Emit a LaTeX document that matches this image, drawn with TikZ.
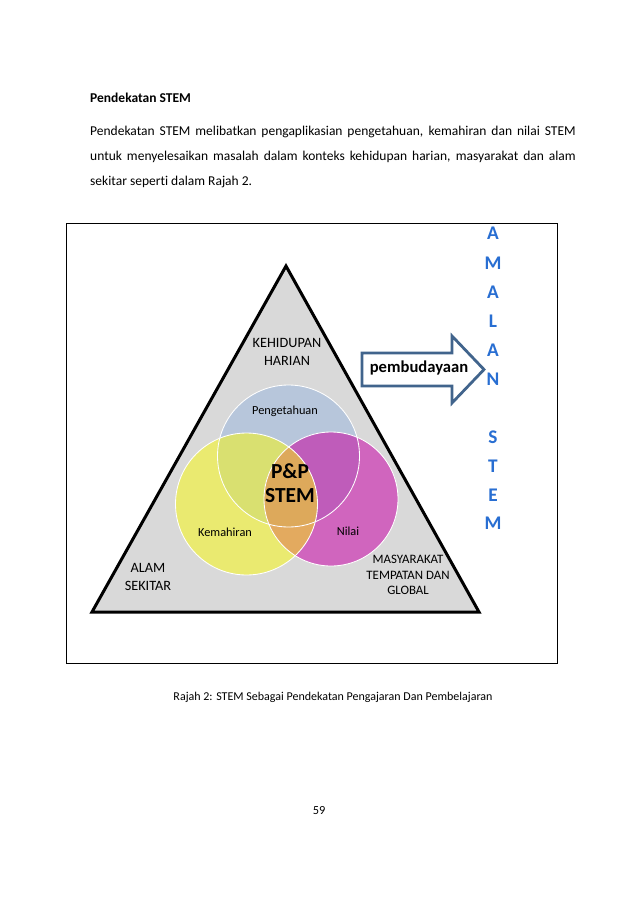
\documentclass[tikz,border=0pt]{standalone}
\usepackage{fontspec}
\setmainfont{Carlito}[Ligatures=NoCommon]
\definecolor{triG}{RGB}{217,217,217}
\definecolor{cB}{RGB}{183,198,219}
\definecolor{cY}{RGB}{234,234,112}
\definecolor{cM}{RGB}{208,101,190}
\definecolor{cYB}{RGB}{217,224,112}
\definecolor{cBM}{RGB}{191,92,186}
\definecolor{cYM}{RGB}{227,170,95}
\definecolor{cC}{RGB}{221,169,91}
\definecolor{arrB}{RGB}{65,100,140}
\definecolor{amalB}{RGB}{40,110,210}
\tikzset{
  bodytxt/.style={anchor=base west,inner sep=0pt,font=\fontsize{12.6}{15}\selectfont},
  lbl/.style={align=center,inner sep=0pt,font=\fontsize{13.3}{16.8}\selectfont},
  vlbl/.style={inner sep=0pt,font=\fontsize{11.5}{14}\selectfont},
  amal/.style={inner sep=0pt,text=amalB,font=\fontsize{18}{20}\selectfont\bfseries},
  arrowshape/.style={draw=arrB,fill=white,line width=2.6pt,line join=miter},
}
\begin{document}
\begin{tikzpicture}[x=0.933pt,y=-0.933pt]
\useasboundingbox (0,0) rectangle (638,901);
\fill[white] (0,0) rectangle (638,901);

% heading and paragraph
\node[bodytxt,font=\fontsize{12.6}{15}\selectfont\bfseries] (head) at (90,102) {Pendekatan STEM};
\node[bodytxt] (p1) at (90,135) {\makebox[453pt][s]{Pendekatan STEM melibatkan pengaplikasian pengetahuan, kemahiran dan nilai STEM}};
\node[bodytxt] (p2) at (90,160) {\makebox[453pt][s]{untuk menyelesaikan masalah dalam konteks kehidupan harian, masyarakat dan alam}};
\node[bodytxt] (p3) at (90,185) {sekitar seperti dalam Rajah 2.};

% frame
\draw[line width=0.9pt] (66,223) rectangle (557,663);

% triangle
\coordinate (T) at (286,266);
\coordinate (L) at (92,612);
\coordinate (R) at (479,612);
\fill[triG] (T) -- (L) -- (R) -- cycle;

% venn
\coordinate (B) at (288.5,456);
\coordinate (Y) at (246.5,504);
\coordinate (M) at (331,499);
\fill[cB] (B) circle[radius=66.24pt];
\fill[cY] (Y) circle[radius=66.24pt];
\fill[cM] (M) circle[radius=62.51pt];
\begin{scope}
  \clip (Y) circle[radius=66.24pt];
  \fill[cYB] (B) circle[radius=66.24pt];
  \fill[cYM] (M) circle[radius=62.51pt];
\end{scope}
\begin{scope}
  \clip (B) circle[radius=66.24pt];
  \fill[cBM] (M) circle[radius=62.51pt];
\end{scope}
\begin{scope}
  \clip (Y) circle[radius=66.24pt];
  \clip (B) circle[radius=66.24pt];
  \fill[cC] (M) circle[radius=62.51pt];
\end{scope}
\draw[white,line width=0.8pt] (B) circle[radius=66.24pt];
\draw[white,line width=0.8pt] (Y) circle[radius=66.24pt];
\draw[white,line width=0.8pt] (M) circle[radius=62.51pt];

\draw[line width=2.8pt,line join=miter] (T) -- (L) -- (R) -- cycle;

% labels
\node[lbl] (kh) at (287,352) {KEHIDUPAN\\HARIAN};
\node[lbl] (as) at (148,577) {ALAM\\SEKITAR};
\node[lbl,font=\fontsize{12}{14.2}\selectfont] (mt) at (408,575) {MASYARAKAT\\TEMPATAN DAN\\GLOBAL};
\node[vlbl] (peng) at (285,411) {Pengetahuan};
\node[vlbl] (kem) at (225,532) {Kemahiran};
\node[vlbl] (nil) at (348,531) {Nilai};
\node[align=center,inner sep=0pt,font=\fontsize{20}{22}\selectfont\bfseries] (pp) at (290,483) {P\&P\\STEM};

% arrow
\draw[arrowshape] (362,353) -- (452,353) -- (452,336) -- (484,369.5) -- (452,403) -- (452,386) -- (362,386) -- cycle;
\node[inner sep=0pt,font=\fontsize{15.5}{18}\selectfont\bfseries] (pem) at (419,368) {pembudayaan};

% AMALAN STEM
\node[amal] (a1) at (493,233) {A};
\node[amal] (a2) at (493,263) {M};
\node[amal] (a3) at (493,292) {A};
\node[amal] (a4) at (493,321) {L};
\node[amal] (a5) at (493,350) {A};
\node[amal] (a6) at (493,379) {N};
\node[amal] (s1) at (493,437) {S};
\node[amal] (s2) at (493,466) {T};
\node[amal] (s3) at (493,495) {E};
\node[amal] (s4) at (493,523) {M};

% caption and page number
\node[inner sep=0pt,font=\fontsize{11.2}{13}\selectfont] (cap) at (333,697) {Rajah 2: STEM Sebagai Pendekatan Pengajaran Dan Pembelajaran};
\node[inner sep=0pt,font=\fontsize{11.5}{13}\selectfont] (pg) at (319,811) {59};
\end{tikzpicture}
\end{document}
